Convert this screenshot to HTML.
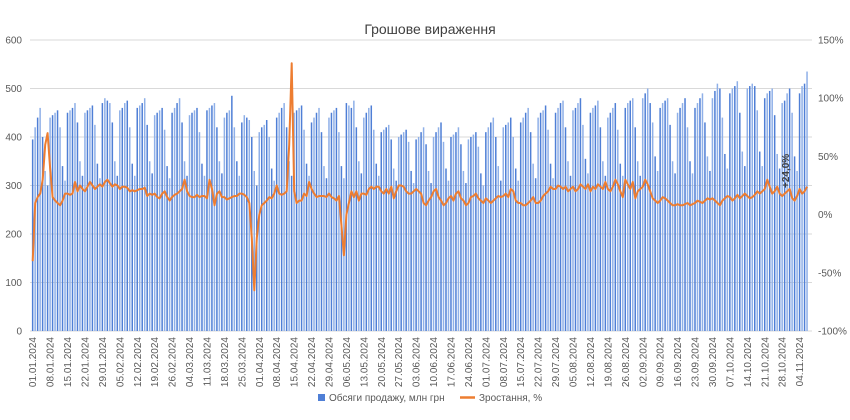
<!DOCTYPE html>
<html><head><meta charset="utf-8"><style>
body{margin:0;background:#fff;font-family:"Liberation Sans",sans-serif}
svg text{font-family:"Liberation Sans",sans-serif;fill:#595959}
</style></head><body>
<svg id="chart" width="850" height="415" xmlns="http://www.w3.org/2000/svg">
<text x="430" y="34" text-anchor="middle" font-size="14" style="fill:#404040">Грошове вираження</text>
<g id="grid"></g><g id="bars"></g><g id="line"></g><g id="axes"></g>
<g>
<rect x="318" y="394" width="7" height="7" fill="#4f7fd6"/>
<text x="329" y="401" font-size="10">Обсяги продажу, млн грн</text>
<line x1="460" y1="397.5" x2="475" y2="397.5" stroke="#ed7d31" stroke-width="2.5"/>
<text x="479" y="401" font-size="10">Зростання, %</text>
</g>
<text transform="translate(789,188) rotate(-90)" font-size="10" font-weight="bold" style="fill:#404040">+24,0%</text>
</svg>
<script>
const sales=[395,420,440,460,400,330,300,440,445,450,455,420,340,310,450,455,460,470,430,350,320,450,455,460,465,425,345,315,470,480,475,470,430,350,320,455,460,470,475,420,345,320,460,465,470,480,425,350,325,445,450,455,460,415,340,315,450,460,470,480,430,350,320,445,450,455,460,410,345,320,455,460,465,470,420,350,325,440,450,455,485,420,350,320,430,445,440,435,400,330,300,410,420,425,435,400,335,310,440,450,460,470,420,350,320,450,455,460,465,415,345,320,430,440,450,460,410,340,315,440,450,455,460,410,340,315,470,465,460,475,420,350,325,440,450,460,465,415,345,320,410,415,420,425,395,335,310,400,405,410,415,390,330,305,395,400,410,420,385,330,305,400,410,420,430,390,335,310,400,405,410,420,385,330,305,395,400,405,410,380,325,300,410,420,430,440,400,340,310,420,425,430,440,400,335,310,430,440,450,460,410,345,315,440,450,455,465,415,345,315,450,460,470,475,420,350,320,455,460,470,480,425,355,325,450,460,465,475,420,350,320,440,450,460,470,415,345,320,460,470,475,480,420,350,320,480,490,500,470,430,360,330,460,470,475,480,425,350,325,450,460,470,480,420,350,325,460,470,480,490,430,360,330,480,495,510,500,440,365,335,490,500,505,515,450,370,340,500,505,510,505,455,370,340,480,490,495,500,445,365,335,470,475,490,500,450,360,330,490,505,510,535];
const growth=[-40,10,15,18,30,60,70,40,15,12,10,8,12,18,18,17,18,28,20,25,22,20,24,28,25,22,24,26,24,28,30,27,24,26,25,22,24,24,23,20,21,20,21,22,22,23,16,18,17,18,15,14,18,20,15,12,15,17,18,20,22,30,20,16,15,15,17,15,16,16,14,30,22,8,18,20,15,15,13,14,15,16,16,18,18,17,15,10,-20,-65,-20,0,8,10,12,15,14,18,25,18,17,18,20,60,130,20,10,12,12,18,16,28,22,18,15,16,16,16,15,18,15,14,12,16,-10,-35,0,10,20,15,20,12,18,18,17,22,24,22,24,24,20,18,22,18,24,14,20,25,25,24,20,18,18,20,22,20,18,10,8,12,15,20,22,15,12,8,10,14,16,12,18,20,14,12,8,10,15,16,18,14,12,10,14,12,10,12,14,16,15,16,18,15,22,20,12,10,10,8,8,10,12,15,10,10,12,16,18,20,24,22,22,25,24,22,24,20,22,24,20,22,26,24,22,26,20,24,22,26,24,22,28,22,20,24,30,26,20,15,30,26,22,28,14,20,22,24,30,26,20,14,12,10,12,15,14,12,10,8,8,9,8,8,9,10,8,9,10,12,11,10,12,14,13,14,12,10,8,12,14,16,15,12,14,17,14,16,18,16,14,15,17,20,18,20,22,30,24,18,20,24,18,16,18,20,22,14,12,16,22,18,20,24];
const leftTicks=[0,100,200,300,400,500,600];
const rightTicks=["-100%","-50%","0%","50%","100%","150%"];
const rightVals=[-100,-50,0,50,100,150];
const X0=31.5,STEP=2.49,Y0=331,YT=40;
function xs(i){return X0+STEP*i+1.2}
function yl(v){return Y0-(v/600)*(Y0-YT)}
function yr(p){return Y0-((p+100)/250)*(Y0-YT)}
const NS="http://www.w3.org/2000/svg";
function mk(t,a,p){const e=document.createElementNS(NS,t);for(const k in a)e.setAttribute(k,a[k]);p.appendChild(e);return e}
const grid=document.getElementById('grid'),axes=document.getElementById('axes'),bars=document.getElementById('bars'),line=document.getElementById('line');
leftTicks.forEach(v=>{
 const g=mk('line',{x1:30,x2:812,y1:yl(v),y2:yl(v),stroke:'#d9d9d9','stroke-width':1},grid);
 
 
 const t=mk('text',{x:22,y:yl(v)+3.5,'text-anchor':'end','font-size':10},axes);t.textContent=v;
 
 
});
rightVals.forEach((p,i)=>{
 const t=mk('text',{x:818,y:yr(p)+3.5,'font-size':10},axes);t.textContent=rightTicks[i];
 
 
});
sales.forEach((v,i)=>{
 const r=mk('rect',{x:xs(i)-0.8,y:yl(v),width:1.5,height:Y0-yl(v),fill:i%2?'#8fb0e8':'#4f7fd6'},bars);
 
 
});
const pl=mk('polyline',{points:growth.map((p,i)=>xs(i).toFixed(1)+','+yr(p).toFixed(1)).join(' '),fill:'none',stroke:'#ed7d31','stroke-width':2,'stroke-linejoin':'round'},line);


const start=new Date(2024,0,1);
for(let i=0;i<sales.length;i+=7){
 const d=new Date(start.getTime()+i*86400000);
 const s=String(d.getDate()).padStart(2,'0')+'.'+String(d.getMonth()+1).padStart(2,'0')+'.2024';
 const t=mk('text',{transform:`translate(${xs(i)+3.5},337) rotate(-90)`,'text-anchor':'end','font-size':10},axes);t.textContent=s;
 
 
}
</script>
</body></html>
